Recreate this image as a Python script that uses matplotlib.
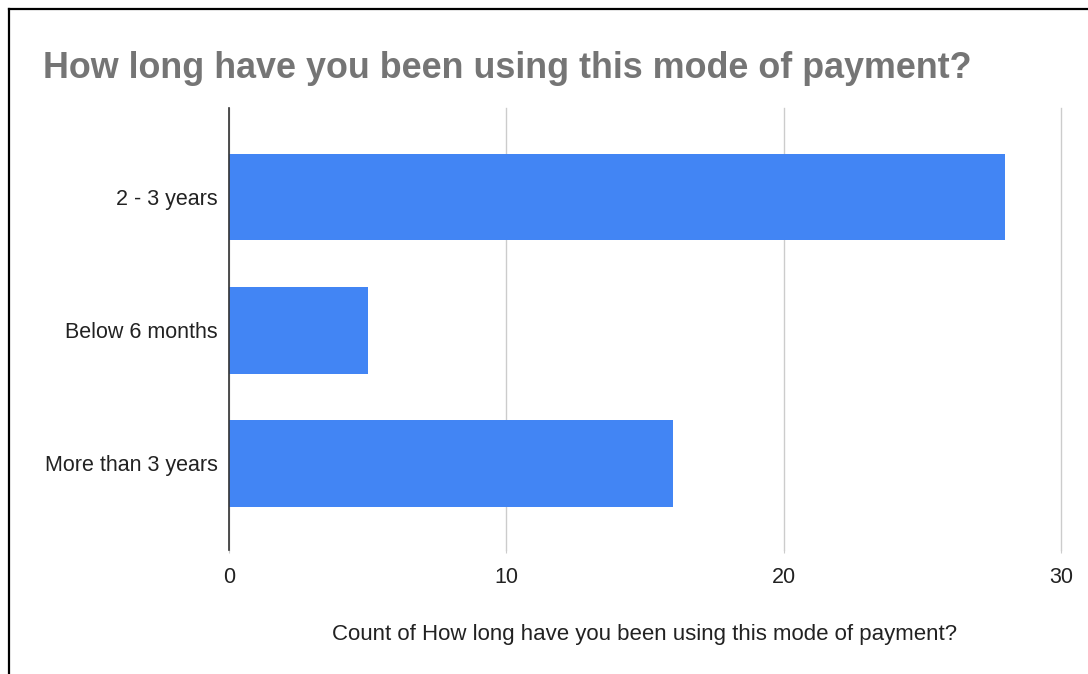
import matplotlib.pyplot as plt
from matplotlib.lines import Line2D

categories = ['2 - 3 years', 'Below 6 months', 'More than 3 years']
counts = [28, 5, 16]
xticks = [0, 10, 20, 30]

plt.rcParams['font.family'] = ['Liberation Sans', 'DejaVu Sans']

fig = plt.figure(figsize=(10.88, 6.74), dpi=100)
ax = fig.add_axes([0.2105, 0.184, 0.7645, 0.656])

pos = range(len(categories))
ax.barh(pos, counts, height=0.65, color='#4285F4', zorder=3)
ax.set_yticks(list(pos))
ax.set_yticklabels(categories, fontsize=15.5, color='#222222')
ax.set_ylim(2.65, -0.67)

ax.set_xlim(0, 30)
ax.set_xticks(xticks)
ax.set_xticklabels([str(t) for t in xticks], fontsize=15.5, color='#222222')
ax.grid(axis='x', color='#cccccc', linewidth=1, zorder=0)
for gl in ax.get_xgridlines():
    gl.set_clip_on(False)
ax.tick_params(axis='x', length=2.5, color='#cccccc', pad=10)
ax.tick_params(axis='y', length=0, pad=8)

for s in ['top', 'right', 'bottom']:
    ax.spines[s].set_visible(False)
ax.spines['left'].set_color('#333333')
ax.spines['left'].set_linewidth(1.2)
ax.spines['left'].set_zorder(4)

ax.set_xlabel('Count of How long have you been using this mode of payment?',
              fontsize=16, color='#222222', labelpad=26)

fig.text(43 / 1088, 1 - 78 / 674, 'How long have you been using this mode of payment?',
         fontsize=25.8, fontweight='bold', color='#757575', ha='left', va='baseline')

# frame around the chart (only the left and top edges fall inside the image)
fig.add_artist(Line2D([9 / 1088, 9 / 1088], [0, 1 - 9 / 674], transform=fig.transFigure,
                      color='black', linewidth=1.6))
fig.add_artist(Line2D([9 / 1088, 1], [1 - 9 / 674, 1 - 9 / 674], transform=fig.transFigure,
                      color='black', linewidth=1.6))

fig.savefig('out.png', dpi=100)
